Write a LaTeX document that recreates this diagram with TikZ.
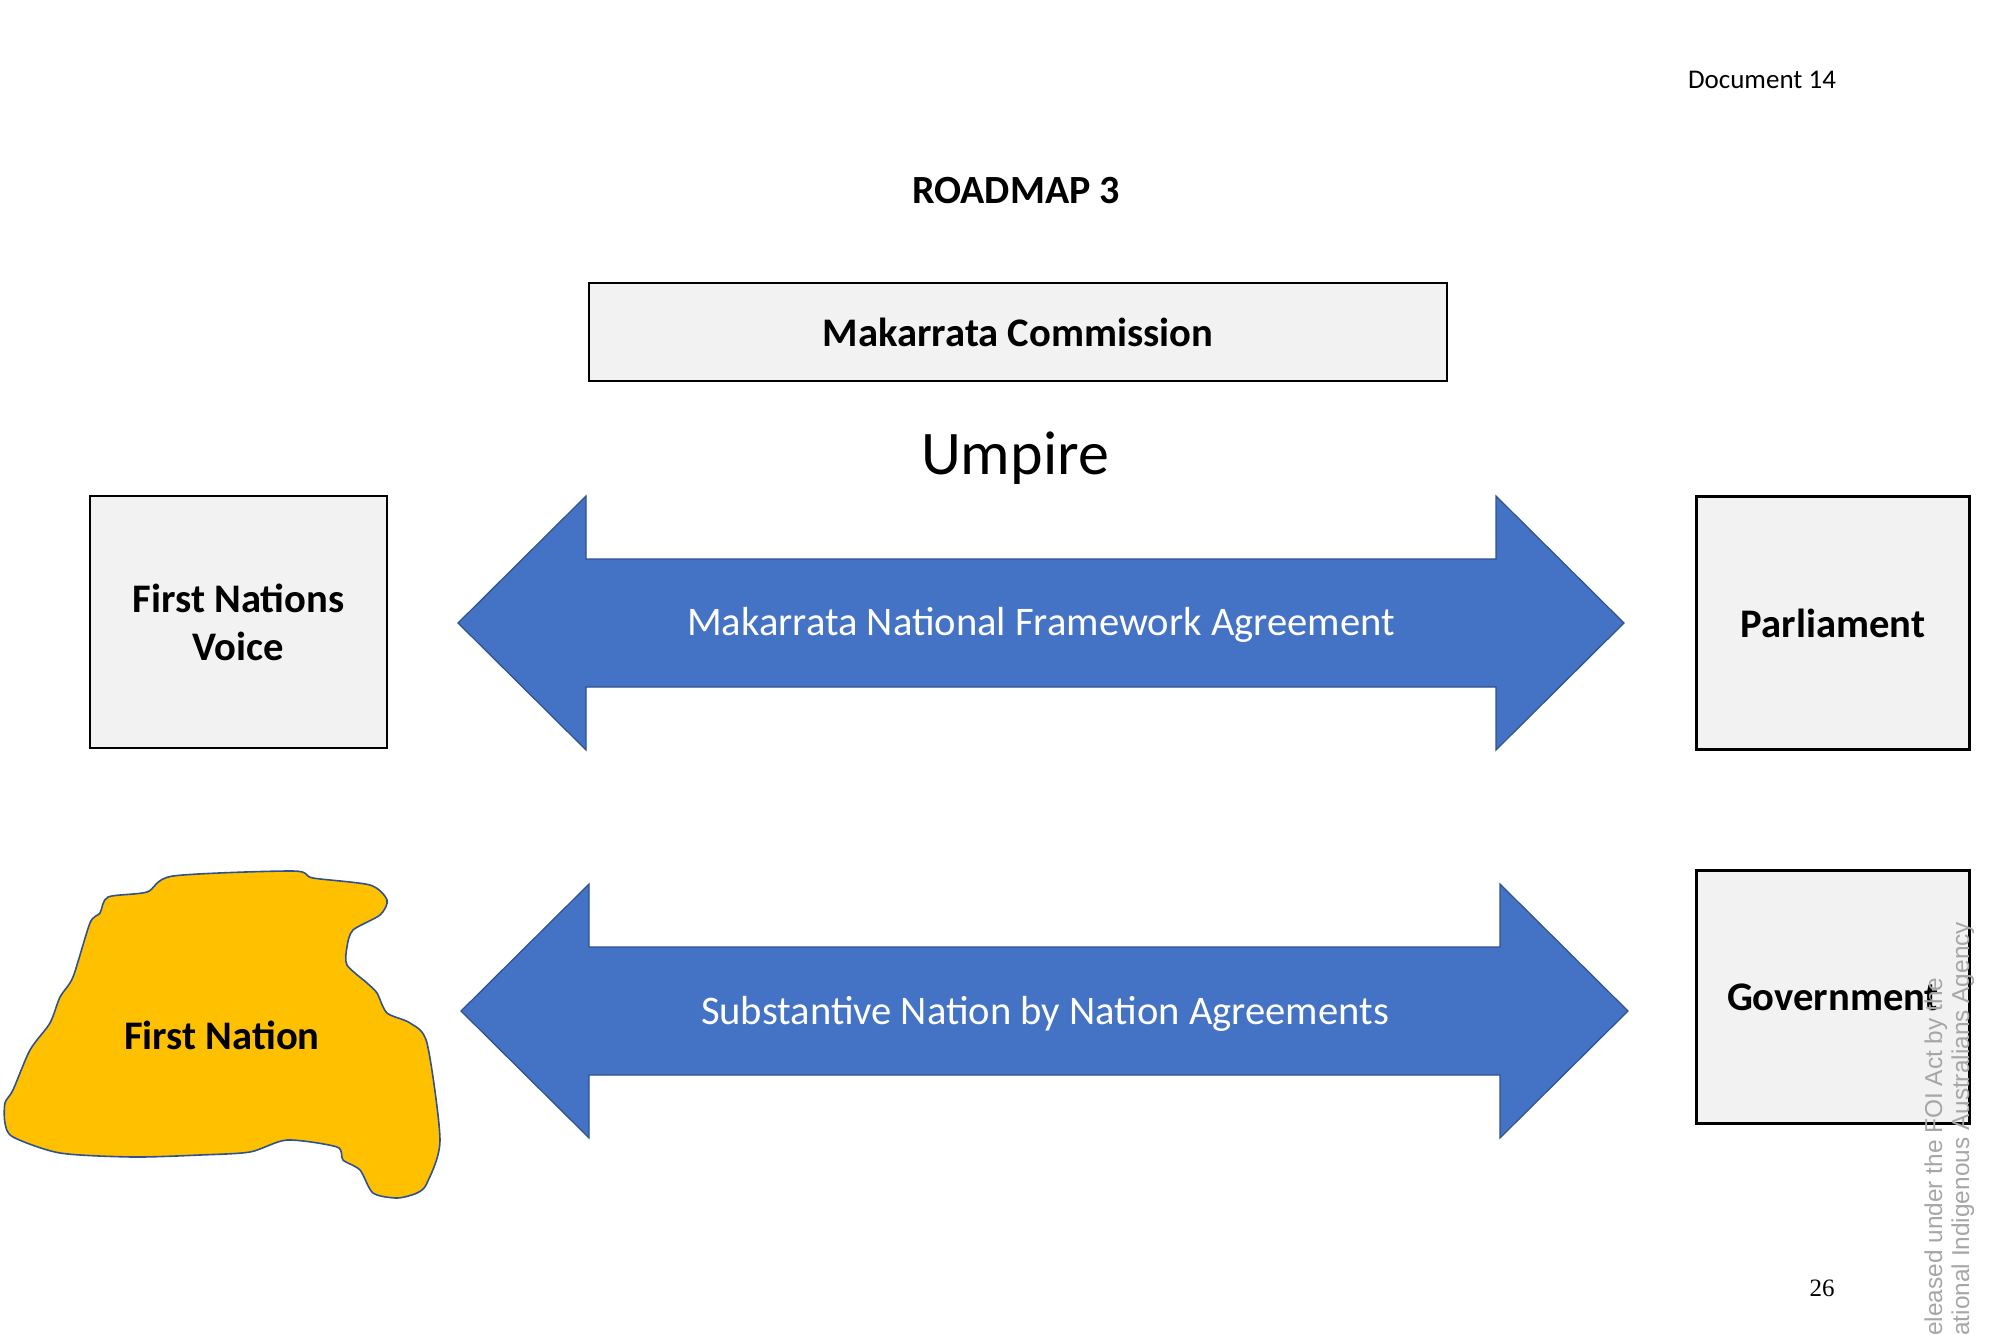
\documentclass[tikz,border=0pt]{standalone}
\usepackage{fontspec}
\setmainfont{Carlito}
\newfontfamily\timesfont{Liberation Serif}
\newfontfamily\arialfont{Liberation Sans}
\definecolor{boxgray}{HTML}{F2F2F2}
\definecolor{arrowblue}{HTML}{4472C4}
\definecolor{edgeblue}{HTML}{2F528F}
\definecolor{nationgold}{HTML}{FFC000}
\definecolor{stampgray}{HTML}{A6A6A6}
\begin{document}
\begin{tikzpicture}[x=0.5pt, y=-0.5pt,
    box/.style = {draw, line width=1.2pt, fill=boxgray, inner sep=0pt, align=center, font=\fontsize{20.3}{24}\selectfont\bfseries},
    band/.style = {fill=arrowblue, draw=edgeblue, line width=0.6pt},
    bandtext/.style = {text=white, font=\fontsize{20.3}{24}\selectfont},
    blob/.style = {fill=nationgold, draw=edgeblue, line width=0.8pt},
    stamp/.style = {rotate=90, anchor=base west, inner sep=0pt, text=stampgray, font=\arialfont\fontsize{12.2}{14}\selectfont}]
    \useasboundingbox (0,0) rectangle (1992,1334);
    \node (doc) at (1762,80) {\fontsize{13.5}{16}\selectfont Document 14};
    \node (title) at (1016,191) {\fontsize{20}{24}\selectfont\bfseries ROADMAP 3};
    \node[box, minimum width=429pt, minimum height=49pt] (mc) at (1018,332) {Makarrata Commission};
    \node (umpire) at (1015,458) {\fontsize{31}{36}\selectfont Umpire};
    \node[box, minimum width=148.5pt, minimum height=126pt] (voice) at (238.5,622) {First Nations\\Voice};
    \node[box, minimum width=136.5pt, minimum height=126.5pt] (parl) at (1833,623) {Parliament};
    \node[box, minimum width=136.5pt, minimum height=126.5pt] (gov) at (1833,997) {Government};
    \draw[band] (458,623) -- (586,496) -- (586,559) -- (1496,559) -- (1496,496) -- (1624,623)
        -- (1496,750) -- (1496,687) -- (586,687) -- (586,750) -- cycle;
    \draw[band] (461,1011) -- (589,884) -- (589,947) -- (1500,947) -- (1500,884) -- (1628,1011)
        -- (1500,1138) -- (1500,1075) -- (589,1075) -- (589,1138) -- cycle;
    \node[bandtext] (framework) at (1041,625) {Makarrata National Framework Agreement};
    \node[bandtext] (agreements) at (1045,1014) {Substantive Nation by Nation Agreements};
    \draw[blob] plot[smooth cycle, tension=0.45] coordinates {
        (108,897) (147,892) (173,876) (293,871) (313,878) (370,885) (387,900) (380,915)
        (353,930) (347,947) (347,965) (367,983) (377,993) (387,1013) (410,1023) (427,1043)
        (440,1140) (427,1183) (417,1193) (397,1198) (373,1193) (360,1170) (343,1160)
        (337,1147) (287,1140) (250,1152) (200,1155) (133,1157) (60,1153) (13,1137)
        (5,1123) (5,1103) (13,1090) (30,1050) (50,1023) (60,997) (73,977) (90,923) (100,913)};
    \node (nation) at (222,1035) {\fontsize{20.3}{24}\selectfont\bfseries First Nation};
    \node (page) at (1822,1288) {\timesfont\fontsize{12.5}{15}\selectfont 26};
    \node[stamp] (stamp1) at (1942,1336) {eleased under the FOI Act by the};
    \node[stamp] (stamp2) at (1969,1336) {ational Indigenous Australians Agency};
\end{tikzpicture}
\end{document}
